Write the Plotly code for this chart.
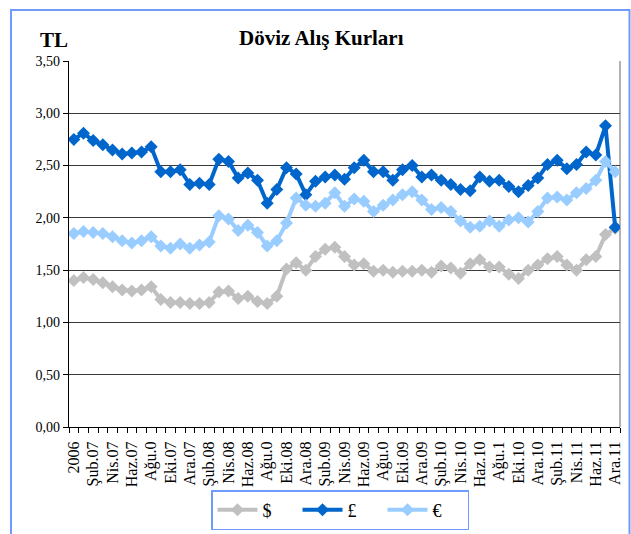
import plotly.graph_objects as go

# ---- data ----
categories = [
    "Ara.06", "Oca.07", "Şub.07", "Mar.07", "Nis.07", "May.07", "Haz.07", "Tem.07", "Ağu.07", "Eyl.07",
    "Eki.07", "Kas.07", "Ara.07", "Oca.08", "Şub.08", "Mar.08", "Nis.08", "May.08", "Haz.08", "Tem.08",
    "Ağu.08", "Eyl.08", "Eki.08", "Kas.08", "Ara.08", "Oca.09", "Şub.09", "Mar.09", "Nis.09", "May.09",
    "Haz.09", "Tem.09", "Ağu.09", "Eyl.09", "Eki.09", "Kas.09", "Ara.09", "Oca.10", "Şub.10", "Mar.10",
    "Nis.10", "May.10", "Haz.10", "Tem.10", "Ağu.10", "Eyl.10", "Eki.10", "Kas.10", "Ara.10", "Oca.11",
    "Şub.11", "Mar.11", "Nis.11", "May.11", "Haz.11", "Tem.11", "Ara.11",
]
tick_labels = [
    "2006", "Şub.07", "Nis.07", "Haz.07", "Ağu.0", "Eki.07", "Ara.07", "Şub.08", "Nis.08", "Haz.08",
    "Ağu.0", "Eki.08", "Ara.08", "Şub.09", "Nis.09", "Haz.09", "Ağu.0", "Eki.09", "Ara.09", "Şub.10",
    "Nis.10", "Haz.10", "Ağu.1", "Eki.10", "Ara.10", "Şub.11", "Nis.11", "Haz.11", "Ara.11",
]
usd = [1.40, 1.43, 1.41, 1.38, 1.34, 1.31, 1.30, 1.31, 1.34, 1.22,
       1.19, 1.19, 1.18, 1.18, 1.19, 1.29, 1.30, 1.23, 1.25, 1.20,
       1.18, 1.25, 1.51, 1.57, 1.50, 1.63, 1.70, 1.72, 1.63, 1.55,
       1.56, 1.49, 1.50, 1.48, 1.49, 1.49, 1.50, 1.48, 1.54, 1.52,
       1.47, 1.56, 1.60, 1.53, 1.53, 1.46, 1.42, 1.50, 1.55, 1.61,
       1.63, 1.55, 1.50, 1.60, 1.63, 1.84, 1.90]
gbp = [2.75, 2.81, 2.74, 2.70, 2.65, 2.61, 2.62, 2.63, 2.68, 2.44,
       2.44, 2.46, 2.32, 2.33, 2.32, 2.56, 2.54, 2.38, 2.43, 2.36,
       2.14, 2.27, 2.48, 2.42, 2.22, 2.35, 2.39, 2.41, 2.37, 2.48,
       2.55, 2.44, 2.44, 2.36, 2.46, 2.50, 2.39, 2.41, 2.36, 2.32,
       2.27, 2.26, 2.39, 2.35, 2.36, 2.30, 2.25, 2.31, 2.38, 2.51,
       2.55, 2.47, 2.51, 2.63, 2.60, 2.88, 1.91]
eur = [1.85, 1.87, 1.86, 1.85, 1.82, 1.78, 1.76, 1.78, 1.82, 1.73,
       1.71, 1.75, 1.71, 1.74, 1.77, 2.02, 1.99, 1.88, 1.93, 1.86,
       1.73, 1.78, 1.95, 2.19, 2.12, 2.11, 2.14, 2.24, 2.11, 2.18,
       2.16, 2.06, 2.12, 2.17, 2.22, 2.25, 2.17, 2.08, 2.10, 2.06,
       1.97, 1.91, 1.92, 1.97, 1.92, 1.98, 2.00, 1.96, 2.06, 2.19,
       2.20, 2.17, 2.24, 2.28, 2.36, 2.54, 2.44]
series_names = ["$", "£", "€"]
y_ticks = [0, 0.5, 1.0, 1.5, 2.0, 2.5, 3.0, 3.5]

# ---- layout geometry (pixels) ----
W, H = 631, 534
PL, PR, PT, PB = 69, 620, 61, 427


def px2x(px):
    return (px - PL) / (PR - PL)


def py2y(py):
    return (PB - py) / (PB - PT)


x = list(range(len(categories)))
FONT = "Liberation Serif, Times New Roman, serif"
colors = ["#C0C0C0", "#0066CC", "#99CCFF"]

fig = go.Figure()
for name, vals, col in zip(series_names, [usd, gbp, eur], colors):
    fig.add_trace(go.Scatter(
        x=x, y=vals, name=name, mode="lines+markers",
        line=dict(color=col, width=4),
        marker=dict(symbol="diamond", size=10, color=col),
        text=categories, hovertemplate="%{text}: %{y:.2f}<extra>" + name + "</extra>",
    ))

fig.update_layout(
    width=W, height=H,
    margin=dict(l=PL, r=W - PR, t=PT, b=H - PB, pad=0, autoexpand=False),
    paper_bgcolor="white", plot_bgcolor="white",
    separators=",.",
    font=dict(family=FONT, size=14, color="black"),
    showlegend=True,
    legend=dict(
        orientation="h", x=px2x(340), y=py2y(490), xanchor="center", yanchor="top",
        bordercolor="#6F9BFF", borderwidth=1.5, bgcolor="white",
        font=dict(family=FONT, size=18, color="black"),
        itemwidth=40, entrywidth=30, entrywidthmode="pixels",
    ),
    xaxis=dict(
        range=[-0.5, len(categories) - 0.5],
        tickmode="array", tickvals=x[::2], ticktext=tick_labels,
        tickangle=-90, ticks="", ticklabelstandoff=7,
        tickfont=dict(family=FONT, size=16, color="black"),
        showgrid=False, zeroline=False, automargin=False,
        showline=True, linecolor="black", linewidth=1.2,
        minor=dict(tickmode="array", tickvals=[i - 0.5 for i in range(len(categories) + 1)],
                   ticks="outside", ticklen=5, tickcolor="black", tickwidth=1, showgrid=False),
    ),
    yaxis=dict(
        range=[0, 3.5], tickmode="array", tickvals=y_ticks, tickformat=".2f",
        ticks="outside", ticklen=5, tickcolor="black", automargin=False,
        tickfont=dict(family=FONT, size=14, color="black"),
        showgrid=True, gridcolor="#3a3a3a", gridwidth=1,
        zeroline=False, showline=True, linecolor="black", linewidth=1.2,
    ),
    shapes=[
        dict(type="line", xref="paper", yref="paper", x0=1, x1=1, y0=0, y1=1,
             line=dict(color="#808080", width=1.2), layer="below"),
        dict(type="rect", xref="paper", yref="paper",
             x0=px2x(11), x1=px2x(629.5), y0=py2y(560), y1=py2y(10),
             line=dict(color="#6F9BFF", width=2), layer="below"),
    ],
    annotations=[
        dict(text="<b>Döviz Alış Kurları</b>", xref="paper", yref="paper",
             x=px2x(321), y=py2y(38), xanchor="center", yanchor="middle", showarrow=False,
             font=dict(family=FONT, size=21, color="black")),
        dict(text="<b>TL</b>", xref="paper", yref="paper",
             x=px2x(54), y=py2y(40), xanchor="center", yanchor="middle", showarrow=False,
             font=dict(family=FONT, size=21, color="black")),
    ],
)

fig.write_html("out.html", config={"displayModeBar": False},
               post_script="document.body.style.margin='0';document.body.style.overflow='hidden';")
